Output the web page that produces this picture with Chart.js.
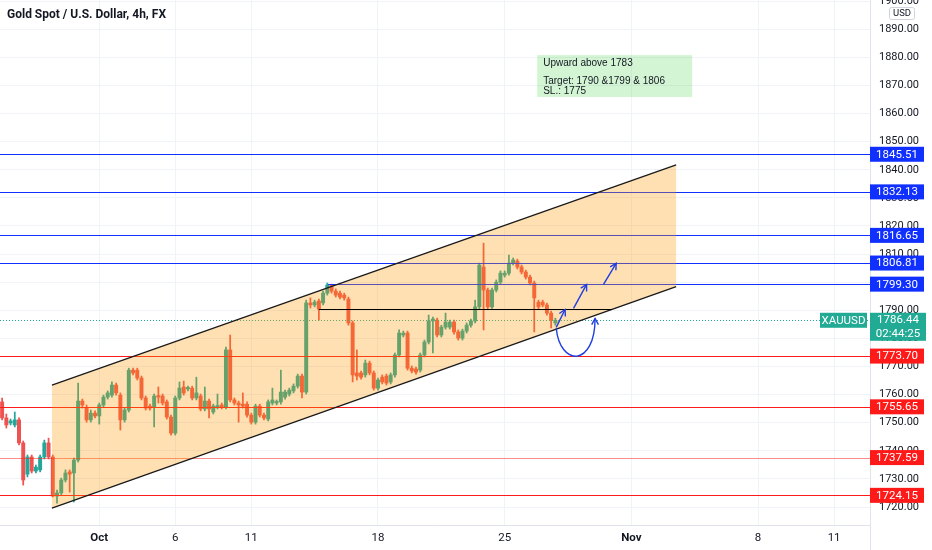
<!DOCTYPE html>
<html lang="en">
<head>
  <meta charset="UTF-8">
  <title>Gold Spot / U.S. Dollar, 4h</title>
  <script src="https://cdn.jsdelivr.net/npm/chart.js"></script>
  <style>
    html, body { margin:0; padding:0; background:#fff; }
    #wrap { width:932px; height:550px; position:relative; }
  </style>
</head>
<body>
<div id="wrap"><canvas id="myChart"></canvas></div>
<script>
// slots on the time axis (traded 4h bars + empty future space)
const barCount = 206;
const tickLabels = ['Oct', '6', '11', '18', '25', 'Nov', '8', '11'];
const tickBars   = [23, 41, 59, 89, 119, 149, 179, 197];
const yTicks = [1720, 1730, 1740, 1750, 1760, 1770, 1780, 1790, 1800, 1810,
                1820, 1830, 1840, 1850, 1860, 1870, 1880, 1890, 1900];

// OHLC, one value per 4h bar
const opens = [
  1757.4, 1751.7, 1749.9, 1749.2, 1751.0, 1742.8, 1731.7, 1737.8, 1732.8, 1733.2,
  1737.8, 1742.8, 1737.8, 1723.9, 1725.0, 1729.6, 1732.5, 1732.1, 1736.7, 1757.7,
  1755.2, 1751.0, 1753.4, 1752.4, 1756.3, 1759.1, 1759.8, 1763.4, 1759.8, 1751.0,
  1754.5, 1768.7, 1768.7, 1765.9, 1758.8, 1755.9, 1755.6, 1759.5, 1759.5, 1757.4,
  1752.0, 1746.3, 1758.8, 1762.7, 1762.0, 1762.3, 1758.8, 1759.5, 1754.9, 1757.7,
  1753.8, 1755.6, 1756.3, 1755.6, 1775.9, 1758.1, 1757.0, 1756.6, 1756.6, 1752.7,
  1750.2, 1755.9, 1752.7, 1751.3, 1757.0, 1757.0, 1757.4, 1759.1, 1760.2, 1761.3,
  1763.0, 1766.6, 1760.9, 1792.6, 1791.9, 1793.3, 1792.6, 1796.1, 1799.0, 1796.8,
  1796.1, 1795.4, 1794.0, 1785.5, 1767.7, 1767.7, 1767.0, 1771.2, 1767.7, 1762.3,
  1766.2, 1766.6, 1764.5, 1767.0, 1774.1, 1781.2, 1781.9, 1769.4, 1769.1, 1768.7,
  1774.1, 1778.7, 1786.2, 1786.5, 1781.2, 1784.0, 1784.0, 1785.8, 1782.3, 1780.1,
  1782.6, 1784.7, 1786.2, 1791.2, 1805.4, 1797.2, 1791.2, 1797.2, 1800.0, 1802.5,
  1803.2, 1806.8, 1807.5, 1805.4, 1803.6, 1801.8, 1799.7, 1792.9, 1792.9, 1791.9,
  1789.0, 1785.5
];
const highs = [
  1758.8, 1753.1, 1751.3, 1753.8, 1751.7, 1743.5, 1738.5, 1738.5, 1734.9, 1738.5,
  1743.8, 1744.5, 1738.5, 1726.0, 1730.3, 1733.2, 1733.2, 1737.4, 1764.1, 1758.4,
  1756.3, 1754.5, 1754.2, 1757.0, 1759.8, 1761.3, 1764.5, 1764.1, 1760.6, 1755.2,
  1769.4, 1769.4, 1769.4, 1766.6, 1759.5, 1756.6, 1760.2, 1762.7, 1760.2, 1758.1,
  1752.7, 1759.5, 1764.5, 1764.8, 1763.0, 1763.0, 1766.2, 1760.2, 1762.7, 1758.4,
  1756.6, 1760.2, 1757.0, 1776.9, 1781.2, 1758.8, 1757.7, 1760.6, 1757.4, 1753.4,
  1756.6, 1756.6, 1753.4, 1758.1, 1762.3, 1758.1, 1768.7, 1761.6, 1762.3, 1763.8,
  1767.3, 1767.3, 1793.6, 1794.4, 1793.6, 1794.0, 1796.8, 1799.7, 1799.3, 1797.6,
  1796.8, 1796.1, 1794.7, 1786.2, 1775.9, 1768.4, 1772.3, 1771.9, 1768.4, 1765.9,
  1767.0, 1767.3, 1767.7, 1774.8, 1783.0, 1782.6, 1782.6, 1770.2, 1769.8, 1774.8,
  1779.4, 1788.3, 1787.6, 1787.2, 1784.7, 1789.0, 1786.5, 1786.5, 1783.0, 1783.3,
  1785.5, 1786.9, 1793.6, 1806.8, 1813.9, 1797.9, 1797.9, 1800.8, 1804.0, 1804.0,
  1809.6, 1808.6, 1808.2, 1806.1, 1804.3, 1802.5, 1800.4, 1793.6, 1793.6, 1792.6,
  1789.7, 1787.2
];
const lows = [
  1751.0, 1748.1, 1749.2, 1748.5, 1742.1, 1727.8, 1730.7, 1732.1, 1732.1, 1732.5,
  1737.1, 1737.1, 1723.6, 1721.4, 1724.3, 1728.9, 1725.3, 1721.8, 1736.0, 1755.2,
  1750.2, 1750.2, 1751.7, 1749.5, 1755.6, 1758.4, 1759.1, 1759.8, 1747.4, 1750.2,
  1753.8, 1767.0, 1765.2, 1758.1, 1754.5, 1754.5, 1748.5, 1757.0, 1756.3, 1751.3,
  1745.6, 1745.6, 1758.1, 1759.8, 1761.3, 1758.1, 1758.1, 1754.2, 1754.2, 1751.7,
  1753.1, 1754.9, 1754.9, 1754.9, 1757.4, 1756.3, 1750.2, 1755.2, 1752.0, 1749.5,
  1749.5, 1752.0, 1751.0, 1750.6, 1756.3, 1756.3, 1756.6, 1758.4, 1759.5, 1760.6,
  1762.3, 1758.8, 1760.2, 1790.8, 1791.2, 1786.5, 1791.9, 1795.4, 1796.1, 1794.7,
  1794.0, 1793.6, 1784.7, 1764.5, 1765.2, 1765.5, 1766.2, 1767.0, 1761.6, 1761.6,
  1763.8, 1763.4, 1763.8, 1766.2, 1773.4, 1780.5, 1768.7, 1767.7, 1767.3, 1768.0,
  1773.4, 1778.0, 1774.8, 1780.5, 1780.5, 1783.3, 1783.3, 1781.5, 1779.4, 1779.4,
  1781.9, 1784.0, 1785.5, 1790.4, 1783.0, 1790.4, 1790.4, 1796.5, 1799.3, 1801.8,
  1802.5, 1806.1, 1804.7, 1802.9, 1801.1, 1799.0, 1782.3, 1790.4, 1791.2, 1788.3,
  1783.7, 1784.7
];
const closes = [
  1751.7, 1749.2, 1750.6, 1751.0, 1742.8, 1729.6, 1737.8, 1732.8, 1734.2, 1737.8,
  1742.8, 1737.8, 1723.9, 1725.0, 1729.6, 1732.1, 1731.7, 1736.7, 1757.7, 1756.3,
  1751.0, 1753.4, 1752.4, 1756.3, 1759.1, 1760.6, 1763.4, 1760.6, 1751.0, 1754.5,
  1768.7, 1767.7, 1765.9, 1758.8, 1755.2, 1755.2, 1759.5, 1759.1, 1757.0, 1752.0,
  1746.3, 1758.8, 1762.3, 1760.6, 1762.3, 1758.8, 1760.6, 1754.9, 1757.7, 1754.9,
  1755.9, 1755.9, 1755.6, 1775.9, 1758.1, 1757.0, 1756.3, 1755.9, 1752.7, 1750.2,
  1755.9, 1752.7, 1751.7, 1757.4, 1758.1, 1757.4, 1760.9, 1760.9, 1761.6, 1763.0,
  1766.6, 1760.9, 1792.6, 1791.9, 1792.9, 1790.4, 1796.1, 1799.0, 1796.8, 1795.4,
  1794.7, 1794.4, 1785.5, 1767.0, 1766.6, 1766.2, 1771.2, 1767.7, 1762.3, 1765.2,
  1764.5, 1764.1, 1767.0, 1774.1, 1781.9, 1781.9, 1769.4, 1768.4, 1768.0, 1774.1,
  1778.7, 1786.2, 1786.9, 1781.2, 1784.0, 1785.8, 1785.8, 1782.3, 1780.1, 1782.6,
  1784.7, 1786.2, 1791.2, 1806.1, 1797.2, 1791.2, 1797.2, 1800.0, 1803.2, 1803.2,
  1806.8, 1807.9, 1805.4, 1803.6, 1801.8, 1799.7, 1794.4, 1791.2, 1791.9, 1789.0,
  1786.5, 1786.44
];

// drawn levels
const blueLevels = [1845.51, 1832.13, 1816.65, 1806.81, 1799.30];
const redLevels  = [1773.70, 1755.65, 1737.59, 1724.15];
const lastPrice = 1786.44;
const countdown = '02:44:25';
// parallel channel [bar, price]
const channelUpper = [[11.8, 1763.4], [159.6, 1841.7]];
const channelLower = [[11.8, 1719.6], [159.6, 1798.4]];
const boxLine = [[75, 1790.4], [144.4, 1790.4]];
const arrows = [
  [[131.2, 1783.9], [133.3, 1790.3]],
  [[135.3, 1790.7], [138.4, 1799.2]],
  [[142.4, 1799.2], [145.4, 1806.7]]
];
const curve = [[131.2, 1783.7], [132.1, 1769.8], [140.4, 1769.8], [140.4, 1787.1]];
const noteBox = [[126.7, 1880.8], [163.4, 1865.9]];
const noteLines = ['Upward above 1783', '', 'Target: 1790 &1799 & 1806', 'SL.: 1775'];

const upColor = '#26a69a', downColor = '#ef5350';
const blue = '#1030ff', red = '#ff1a1a', teal = '#22ab94';

const xLabels = Array.from({length: barCount}, (_, i) => {
  const k = tickBars.indexOf(i);
  return k < 0 ? '' : tickLabels[k];
});
const candleColor = c => closes[c.dataIndex] >= opens[c.dataIndex] ? upColor : downColor;

function tag(ctx, x, yc, w, h, bg, lines) {
  ctx.fillStyle = bg;
  ctx.fillRect(x, yc - h / 2, w, h);
  ctx.fillStyle = '#fff';
  ctx.textAlign = 'center';
  ctx.textBaseline = 'middle';
  const step = h / lines.length;
  lines.forEach((t, k) => ctx.fillText(t, x + w / 2, yc - h / 2 + step * (k + 0.5) + 0.5));
}

function arrowHead(ctx, x1, y1, x2, y2) {
  const a = Math.atan2(y2 - y1, x2 - x1), len = 7, s = 0.5;
  ctx.beginPath();
  ctx.moveTo(x2 - len * Math.cos(a - s), y2 - len * Math.sin(a - s));
  ctx.lineTo(x2, y2);
  ctx.lineTo(x2 - len * Math.cos(a + s), y2 - len * Math.sin(a + s));
  ctx.stroke();
}

const drawings = {
  id: 'drawings',
  afterDatasetsDraw(chart) {
    const {ctx, chartArea: a, scales: {x, y}} = chart;
    const px = p => [x.getPixelForValue(p[0]), y.getPixelForValue(p[1])];
    const hy = v => Math.round(y.getPixelForValue(v)) + 0.5;
    ctx.save();
    ctx.beginPath(); ctx.rect(a.left, a.top, a.width, a.height); ctx.clip();

    // horizontal levels
    ctx.lineWidth = 1;
    blueLevels.forEach((v, k) => {
      const x0 = k === 4 ? x.getPixelForValue(77.2) : a.left;
      ctx.strokeStyle = blue;
      ctx.beginPath(); ctx.moveTo(x0, hy(v)); ctx.lineTo(a.right, hy(v)); ctx.stroke();
    });
    redLevels.forEach((v, k) => {
      ctx.strokeStyle = k === 2 ? 'rgba(255,26,26,0.5)' : red;
      ctx.beginPath(); ctx.moveTo(a.left, hy(v)); ctx.lineTo(a.right, hy(v)); ctx.stroke();
    });

    // last price dotted line
    ctx.strokeStyle = teal;
    ctx.setLineDash([1, 2]);
    ctx.beginPath(); ctx.moveTo(a.left, hy(lastPrice)); ctx.lineTo(a.right, hy(lastPrice)); ctx.stroke();
    ctx.setLineDash([]);

    // channel fill
    const u0 = px(channelUpper[0]), u1 = px(channelUpper[1]);
    const l0 = px(channelLower[0]), l1 = px(channelLower[1]);
    ctx.fillStyle = 'rgba(255,152,0,0.3)';
    ctx.beginPath();
    ctx.moveTo(...u0); ctx.lineTo(...u1); ctx.lineTo(...l1); ctx.lineTo(...l0); ctx.closePath();
    ctx.fill();
    ctx.strokeStyle = '#1a1a1a';
    ctx.lineWidth = 1.3;
    ctx.beginPath(); ctx.moveTo(...u0); ctx.lineTo(...u1); ctx.stroke();
    ctx.beginPath(); ctx.moveTo(...l0); ctx.lineTo(...l1); ctx.stroke();

    // black box line
    ctx.strokeStyle = '#000';
    ctx.lineWidth = 1.2;
    const b0 = px(boxLine[0]), b1 = px(boxLine[1]);
    ctx.beginPath(); ctx.moveTo(b0[0], Math.round(b0[1]) + 0.5); ctx.lineTo(b1[0], Math.round(b1[1]) + 0.5); ctx.stroke();

    // arrows
    ctx.strokeStyle = '#1f3fe0';
    ctx.lineWidth = 1.4;
    arrows.forEach(([p, q]) => {
      const s = px(p), e = px(q);
      ctx.beginPath(); ctx.moveTo(...s); ctx.lineTo(...e); ctx.stroke();
      arrowHead(ctx, s[0], s[1], e[0], e[1]);
    });
    const c = curve.map(px);
    ctx.beginPath(); ctx.moveTo(...c[0]); ctx.bezierCurveTo(...c[1], ...c[2], ...c[3]); ctx.stroke();
    arrowHead(ctx, c[2][0], c[2][1], c[3][0], c[3][1]);

    // note box
    const n0 = px(noteBox[0]), n1 = px(noteBox[1]);
    ctx.fillStyle = 'rgba(60,210,60,0.22)';
    ctx.fillRect(n0[0], n0[1], n1[0] - n0[0], n1[1] - n0[1]);
    ctx.fillStyle = '#131722';
    ctx.font = '10px "Liberation Sans"';
    ctx.textAlign = 'left';
    ctx.textBaseline = 'middle';
    const lh = [8, 17, 26, 36];
    noteLines.forEach((t, k) => ctx.fillText(t, n0[0] + 6, n0[1] + lh[k]));
    ctx.restore();
  },
  afterDraw(chart) {
    const {ctx, chartArea: a, scales: {y}} = chart;
    ctx.save();
    // axis border continues through the time axis
    ctx.strokeStyle = '#e0e3eb';
    ctx.lineWidth = 1;
    ctx.beginPath(); ctx.moveTo(a.right + 0.5, a.bottom); ctx.lineTo(a.right + 0.5, chart.height); ctx.stroke();

    ctx.font = '11.5px Roboto';
    blueLevels.forEach(v => tag(ctx, a.right, y.getPixelForValue(v), 54, 15, blue, [v.toFixed(2)]));
    redLevels.forEach(v => tag(ctx, a.right, y.getPixelForValue(v), 54, 15, red, [v.toFixed(2)]));
    const yp = y.getPixelForValue(lastPrice);
    tag(ctx, a.right - 50, yp, 47, 15, teal, ['XAUUSD']);
    tag(ctx, a.right, yp + 6.5, 56, 28, teal, [lastPrice.toFixed(2), countdown]);

    // currency box
    ctx.fillStyle = '#fff';
    ctx.strokeStyle = '#d1d4dc';
    ctx.beginPath(); ctx.roundRect(a.right + 19.5, 7.5, 25, 12, 2); ctx.fill(); ctx.stroke();
    ctx.fillStyle = '#131722';
    ctx.font = '9.5px Roboto';
    ctx.textAlign = 'center'; ctx.textBaseline = 'middle';
    ctx.fillText('USD', a.right + 32, 14);

    // title
    ctx.font = 'bold 12px Roboto';
    ctx.textAlign = 'left';
    ctx.fillText('Gold Spot / U.S. Dollar, 4h, FX', 7, 15);
    ctx.restore();
  }
};

new Chart(document.getElementById('myChart'), {
  type: 'bar',
  data: {
    labels: xLabels,
    datasets: [
      {
        data: highs.map((h, i) => [lows[i], h]),
        backgroundColor: candleColor,
        barThickness: 1.1,
        grouped: false,
        minBarLength: 1
      },
      {
        data: opens.map((o, i) => [o, closes[i]]),
        backgroundColor: candleColor,
        barThickness: 3.3,
        grouped: false,
        minBarLength: 1.5
      }
    ]
  },
  options: {
    responsive: true,
    maintainAspectRatio: false,
    animation: false,
    events: [],
    layout: { padding: 0 },
    plugins: { legend: { display: false }, tooltip: { enabled: false } },
    scales: {
      x: {
        grid: {
          offset: false,
          drawTicks: false,
          color: c => (c.tick && c.tick.label) ? '#f0f3fa' : 'rgba(0,0,0,0)'
        },
        border: { color: '#e0e3eb' },
        ticks: {
          autoSkip: false,
          maxRotation: 0,
          padding: 6,
          color: '#131722',
          font: c => ({ family: 'Roboto', size: 11.5,
                        weight: (c.tick && /^[A-Z]/.test(c.tick.label)) ? 'bold' : 'normal' }),
          callback: (v, i) => xLabels[i]
        },
        afterFit: s => { s.height = 25; s.paddingLeft = 0; s.paddingRight = 0; }
      },
      y: {
        position: 'right',
        min: 1713.6,
        max: 1900.4,
        grid: { color: '#f0f3fa', drawTicks: false },
        border: { color: '#e0e3eb' },
        afterBuildTicks: s => { s.ticks = yTicks.map(v => ({ value: v })); },
        ticks: {
          crossAlign: 'near',
          padding: 9,
          color: '#131722',
          font: { family: 'Roboto', size: 11 },
          callback: v => v.toFixed(2)
        },
        afterFit: s => { s.width = 62; s.paddingTop = 0; s.paddingBottom = 0; }
      }
    }
  },
  plugins: [drawings]
});
</script>
</body>
</html>
